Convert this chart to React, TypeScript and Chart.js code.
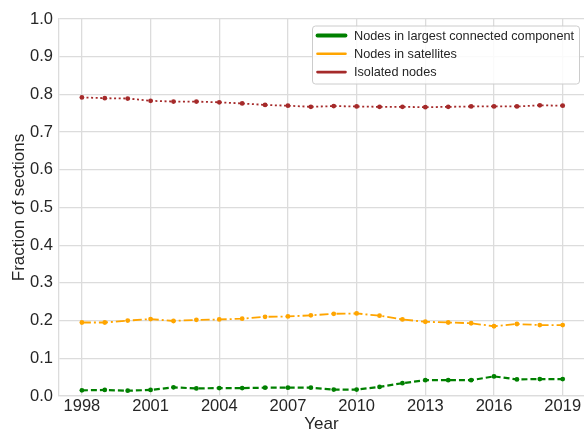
import React, { useEffect, useRef } from "react";
import { Chart, registerables } from "chart.js";

Chart.register(...registerables);

// ---- data ----
const years = [1998, 1999, 2000, 2001, 2002, 2003, 2004, 2005, 2006, 2007, 2008, 2009, 2010, 2011, 2012, 2013, 2014, 2015, 2016, 2017, 2018, 2019];
const largestComponent = [0.015, 0.016, 0.014, 0.016, 0.023, 0.020, 0.021, 0.021, 0.022, 0.022, 0.022, 0.017, 0.017, 0.024, 0.034, 0.042, 0.042, 0.042, 0.052, 0.044, 0.045, 0.045];
const satellites = [0.195, 0.195, 0.200, 0.204, 0.199, 0.202, 0.203, 0.205, 0.210, 0.211, 0.214, 0.218, 0.219, 0.213, 0.203, 0.197, 0.195, 0.193, 0.185, 0.191, 0.188, 0.188];
const isolated = [0.792, 0.790, 0.789, 0.783, 0.781, 0.781, 0.779, 0.776, 0.772, 0.770, 0.767, 0.769, 0.768, 0.767, 0.767, 0.766, 0.767, 0.768, 0.768, 0.768, 0.771, 0.770];
const seriesLabels = ["Nodes in largest connected component", "Nodes in satellites", "Isolated nodes"];
const xTickYears = [1998, 2001, 2004, 2007, 2010, 2013, 2016, 2019];
const yTickValues = [0, 0.1, 0.2, 0.3, 0.4, 0.5, 0.6, 0.7, 0.8, 0.9, 1.0];
const xTitle = "Year";
const yTitle = "Fraction of sections";

// ---- styles ----
const FONT = "'Liberation Sans', Arial, sans-serif";
const TEXT = "#262626";
const GRID = "#dcdcdc";
const colors = ["#008000", "#ffa500", "#a52a2a"];
const lineWidths = [2.2, 1.8, 1.8];
const legendLineWidths = [3.8, 2.6, 2.6];
const dashes = [[6, 3], [9, 3, 2, 3], [2, 2.6]];

const legendPlugin = {
  id: "customLegend",
  afterDraw(chart: any) {
    const { ctx, chartArea } = chart;
    const right = chartArea.right - 4.5;
    const top = chartArea.top + 7;
    const left = 312.5;
    const width = right - left;
    const height = 58;
    ctx.save();
    ctx.beginPath();
    const r = 3;
    ctx.moveTo(left + r, top);
    ctx.lineTo(left + width - r, top);
    ctx.quadraticCurveTo(left + width, top, left + width, top + r);
    ctx.lineTo(left + width, top + height - r);
    ctx.quadraticCurveTo(left + width, top + height, left + width - r, top + height);
    ctx.lineTo(left + r, top + height);
    ctx.quadraticCurveTo(left, top + height, left, top + height - r);
    ctx.lineTo(left, top + r);
    ctx.quadraticCurveTo(left, top, left + r, top);
    ctx.closePath();
    ctx.fillStyle = "rgba(255,255,255,0.85)";
    ctx.fill();
    ctx.strokeStyle = "#cccccc";
    ctx.lineWidth = 1;
    ctx.stroke();
    ctx.font = `12.7px ${FONT}`;
    ctx.textBaseline = "middle";
    ctx.textAlign = "left";
    seriesLabels.forEach((label, i) => {
      const y = top + 9.5 + i * 18.3;
      ctx.beginPath();
      ctx.strokeStyle = colors[i];
      ctx.lineWidth = legendLineWidths[i];
      ctx.lineCap = "round";
      ctx.moveTo(left + 5, y);
      ctx.lineTo(left + 33, y);
      ctx.stroke();
      ctx.fillStyle = TEXT;
      ctx.fillText(label, left + 41.5, y + 0.5);
    });
    ctx.restore();
  },
};

export default function App() {
  const ref = useRef<HTMLCanvasElement | null>(null);

  useEffect(() => {
    if (!ref.current) return;
    const series = [largestComponent, satellites, isolated];
    const chart = new Chart(ref.current, {
      type: "line",
      data: {
        datasets: series.map((vals, i) => ({
          label: seriesLabels[i],
          data: years.map((y, j) => ({ x: y, y: vals[j] })),
          borderColor: colors[i],
          backgroundColor: colors[i],
          borderWidth: lineWidths[i],
          borderDash: dashes[i],
          pointRadius: 2.4,
          pointBorderWidth: 0,
          pointBackgroundColor: colors[i],
          tension: 0,
          fill: false,
        })),
      },
      options: {
        animation: false,
        responsive: false,
        maintainAspectRatio: false,
        layout: { autoPadding: false, padding: { top: 19, left: 0, right: 0, bottom: 0 } },
        plugins: {
          legend: { display: false },
          tooltip: { enabled: false },
        },
        scales: {
          x: {
            type: "linear",
            min: 1997,
            max: 2019.93,
            afterBuildTicks: (scale: any) => {
              scale.ticks = xTickYears.map((v) => ({ value: v }));
            },
            afterFit: (scale: any) => {
              scale.height = 33;
              scale.paddingLeft = 0;
              scale.paddingRight = 0;
            },
            grid: { color: GRID, lineWidth: 1.3, drawTicks: false },
            border: { color: GRID, width: 1.3 },
            ticks: {
              autoSkip: false,
              maxRotation: 0,
              padding: 1,
              color: TEXT,
              font: { family: FONT, size: 16.5 },
              callback: (v: any) => String(v),
            },
            title: {
              display: true,
              text: xTitle,
              color: TEXT,
              font: { family: FONT, size: 17, lineHeight: 1.2 },
              padding: { top: 0, bottom: -5.2 },
            },
          },
          y: {
            type: "linear",
            min: 0,
            max: 1,
            afterBuildTicks: (scale: any) => {
              scale.ticks = yTickValues.map((v) => ({ value: v }));
            },
            afterFit: (scale: any) => {
              scale.width = 59;
              scale.paddingTop = 0;
              scale.paddingBottom = 0;
            },
            grid: { color: GRID, lineWidth: 1.3, drawTicks: false },
            border: { color: GRID, width: 1.3 },
            ticks: {
              autoSkip: false,
              padding: 6,
              color: TEXT,
              font: { family: FONT, size: 16.5 },
              callback: (v: any) => Number(v).toFixed(1),
            },
            title: {
              display: true,
              text: yTitle,
              color: TEXT,
              font: { family: FONT, size: 17, lineHeight: 1.2 },
              padding: { top: 8.8, bottom: 0 },
            },
          },
        },
      },
      plugins: [legendPlugin],
    });
    return () => chart.destroy();
  }, []);

  return (
    <div style={{ position: "fixed", left: 0, top: 0, width: 584, height: 429, background: "#ffffff", overflow: "hidden" }}>
      <canvas ref={ref} width={584} height={429} style={{ display: "block", width: 584, height: 429 }} />
    </div>
  );
}
